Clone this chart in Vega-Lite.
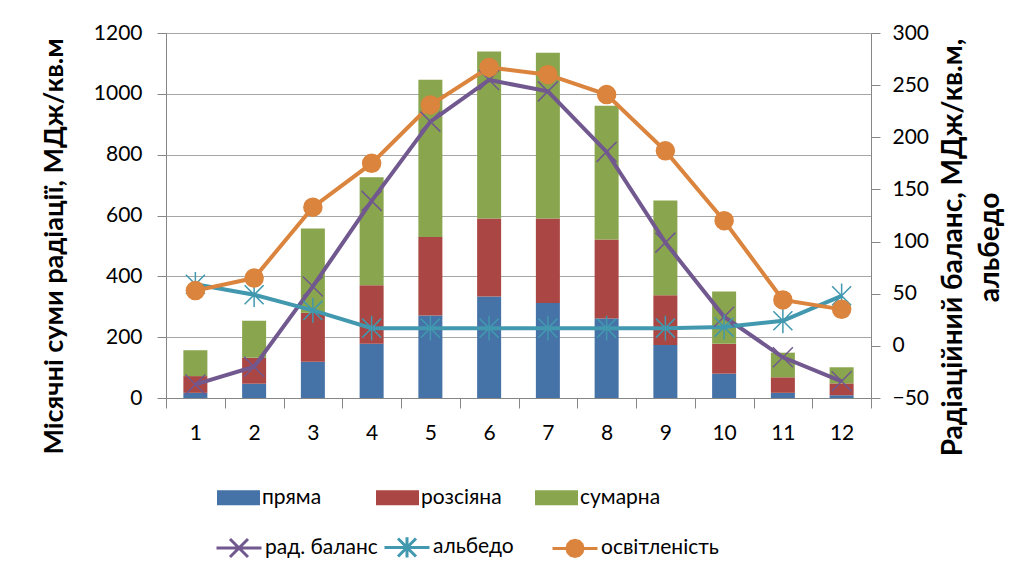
{
  "$schema": "https://vega.github.io/schema/vega-lite/v6.json",
  "width": 705,
  "height": 365,
  "autosize": {"type": "none"},
  "padding": {"left": 166, "top": 33, "right": 140, "bottom": 180},
  "background": "white",
  "config": {
    "font": "Lato",
    "view": {"stroke": null},
    "axis": {
      "labelFont": "Lato",
      "labelFontSize": 21,
      "labelColor": "#000000",
      "titleFont": "Lato",
      "titleFontSize": 27,
      "titleFontWeight": "bold",
      "titleColor": "#000000",
      "domainColor": "#868686",
      "tickColor": "#868686",
      "gridColor": "#a6a6a6",
      "tickSize": 9
    },
    "legend": {"labelFont": "Lato", "labelFontSize": 21, "labelColor": "#000000"}
  },
  "datasets": {
    "bars": [
      {"month": 1, "type": "пряма", "value": 17}, {"month": 1, "type": "розсіяна", "value": 55}, {"month": 1, "type": "сумарна", "value": 85},
      {"month": 2, "type": "пряма", "value": 47}, {"month": 2, "type": "розсіяна", "value": 85}, {"month": 2, "type": "сумарна", "value": 122},
      {"month": 3, "type": "пряма", "value": 119}, {"month": 3, "type": "розсіяна", "value": 161}, {"month": 3, "type": "сумарна", "value": 277},
      {"month": 4, "type": "пряма", "value": 178}, {"month": 4, "type": "розсіяна", "value": 193}, {"month": 4, "type": "сумарна", "value": 355},
      {"month": 5, "type": "пряма", "value": 271}, {"month": 5, "type": "розсіяна", "value": 258}, {"month": 5, "type": "сумарна", "value": 517},
      {"month": 6, "type": "пряма", "value": 334}, {"month": 6, "type": "розсіяна", "value": 256}, {"month": 6, "type": "сумарна", "value": 549},
      {"month": 7, "type": "пряма", "value": 312}, {"month": 7, "type": "розсіяна", "value": 278}, {"month": 7, "type": "сумарна", "value": 545},
      {"month": 8, "type": "пряма", "value": 261}, {"month": 8, "type": "розсіяна", "value": 260}, {"month": 8, "type": "сумарна", "value": 440},
      {"month": 9, "type": "пряма", "value": 174}, {"month": 9, "type": "розсіяна", "value": 164}, {"month": 9, "type": "сумарна", "value": 311},
      {"month": 10, "type": "пряма", "value": 80}, {"month": 10, "type": "розсіяна", "value": 98}, {"month": 10, "type": "сумарна", "value": 172},
      {"month": 11, "type": "пряма", "value": 17}, {"month": 11, "type": "розсіяна", "value": 51}, {"month": 11, "type": "сумарна", "value": 81},
      {"month": 12, "type": "пряма", "value": 9}, {"month": 12, "type": "розсіяна", "value": 39}, {"month": 12, "type": "сумарна", "value": 53}
    ],
    "lines": [
      {"month": 1, "series": "рад. баланс", "value": -37}, {"month": 2, "series": "рад. баланс", "value": -20},
      {"month": 3, "series": "рад. баланс", "value": 57}, {"month": 4, "series": "рад. баланс", "value": 139},
      {"month": 5, "series": "рад. баланс", "value": 215}, {"month": 6, "series": "рад. баланс", "value": 255},
      {"month": 7, "series": "рад. баланс", "value": 244}, {"month": 8, "series": "рад. баланс", "value": 186},
      {"month": 9, "series": "рад. баланс", "value": 99}, {"month": 10, "series": "рад. баланс", "value": 28},
      {"month": 11, "series": "рад. баланс", "value": -11}, {"month": 12, "series": "рад. баланс", "value": -34},
      {"month": 1, "series": "альбедо", "value": 59}, {"month": 2, "series": "альбедо", "value": 49},
      {"month": 3, "series": "альбедо", "value": 34}, {"month": 4, "series": "альбедо", "value": 17},
      {"month": 5, "series": "альбедо", "value": 17}, {"month": 6, "series": "альбедо", "value": 17},
      {"month": 7, "series": "альбедо", "value": 17}, {"month": 8, "series": "альбедо", "value": 17},
      {"month": 9, "series": "альбедо", "value": 17}, {"month": 10, "series": "альбедо", "value": 18},
      {"month": 11, "series": "альбедо", "value": 24}, {"month": 12, "series": "альбедо", "value": 48},
      {"month": 1, "series": "освітленість", "value": 53}, {"month": 2, "series": "освітленість", "value": 65},
      {"month": 3, "series": "освітленість", "value": 133}, {"month": 4, "series": "освітленість", "value": 175},
      {"month": 5, "series": "освітленість", "value": 231}, {"month": 6, "series": "освітленість", "value": 267},
      {"month": 7, "series": "освітленість", "value": 260}, {"month": 8, "series": "освітленість", "value": 241},
      {"month": 9, "series": "освітленість", "value": 187}, {"month": 10, "series": "освітленість", "value": 120},
      {"month": 11, "series": "освітленість", "value": 44}, {"month": 12, "series": "освітленість", "value": 35}
    ]
  },
  "encoding": {
    "x": {
      "field": "month",
      "type": "ordinal",
      "title": null,
      "scale": {"paddingInner": 0, "paddingOuter": 0},
      "axis": {"labelAngle": 0, "tickBand": "extent", "tickSize": 10, "labelPadding": 14, "domainColor": "#868686"}
    }
  },
  "layer": [
    {
      "data": {"name": "bars"},
      "mark": {"type": "bar", "size": 24},
      "encoding": {
        "y": {
          "field": "value",
          "type": "quantitative",
          "stack": "zero",
          "title": "Місячні суми радіації, МДж/кв.м",
          "scale": {"domain": [0, 1200], "nice": false},
          "axis": {"values": [0, 200, 400, 600, 800, 1000, 1200], "format": "d", "grid": true, "labelPadding": 15, "titlePadding": 25, "titleY": 213}
        },
        "color": {
          "field": "type",
          "type": "nominal",
          "scale": {"domain": ["пряма", "розсіяна", "сумарна"], "range": ["#4572A7", "#AA4643", "#89A54E"]},
          "legend": {
            "title": null,
            "orient": "none",
            "legendX": 51,
            "legendY": 443,
            "direction": "horizontal",
            "columns": 3,
            "gridAlign": "all",
            "columnPadding": 33,
            "symbolType": "M-1,-0.35H1V0.35H-1Z",
            "symbolSize": 1849,
            "symbolStrokeWidth": 0,
            "labelOffset": 2
          }
        },
        "order": {"field": "type", "sort": "ascending"}
      }
    },
    {
      "data": {"name": "lines"},
      "encoding": {
        "y": {
          "field": "value",
          "type": "quantitative",
          "title": ["Радіаційний баланс, МДж/кв.м,", "альбедо"],
          "scale": {"domain": [-50, 300], "nice": false},
          "axis": {
            "orient": "right",
            "values": [-50, 0, 50, 100, 150, 200, 250, 300],
            "grid": false,
            "labelPadding": 12,
            "titleAngle": 270,
            "titlePadding": 2,
            "titleFontSize": 28,
            "titleLineHeight": 37,
            "titleY": 214
          }
        }
      },
      "layer": [
        {
          "mark": {"type": "line", "strokeWidth": 4},
          "encoding": {
            "color": {
              "field": "series",
              "type": "nominal",
              "sort": null,
              "scale": {"domain": ["рад. баланс", "альбедо", "освітленість"], "range": ["#71588F", "#4198AF", "#DB843D"]},
              "legend": {
                "title": null,
                "orient": "none",
                "legendX": 49,
                "legendY": 490,
                "direction": "horizontal",
                "columns": 3,
                "gridAlign": "all",
                "columnPadding": -8,
                "symbolSize": 2025,
                "symbolStrokeWidth": 3,
                "labelOffset": 2,
                "encode": {
                  "symbols": {
                    "update": {
                      "shape": {"signal": "datum.value === 'рад. баланс' ? 'M-1,0H1M-0.4,-0.4L0.4,0.4M-0.4,0.4L0.4,-0.4' : datum.value === 'альбедо' ? 'M-1,0H1M-0.4,-0.4L0.4,0.4M-0.4,0.4L0.4,-0.4M0,-0.45V0.45' : 'M-1,0H1M0.36,0L0.312,0.18L0.18,0.312L0,0.36L-0.18,0.312L-0.312,0.18L-0.36,0L-0.312,-0.18L-0.18,-0.312L0,-0.36L0.18,-0.312L0.312,-0.18Z'"},
                      "fill": {"signal": "datum.value === 'освітленість' ? '#DB843D' : 'transparent'"}
                    }
                  }
                }
              }
            }
          }
        },
        {
          "mark": {"type": "point", "strokeWidth": 1.5, "opacity": 1},
          "encoding": {
            "shape": {
              "field": "series",
              "type": "nominal",
              "scale": {"domain": ["рад. баланс", "альбедо", "освітленість"], "range": ["M-1,-1L1,1M-1,1L1,-1", "M-1,-1L1,1M-1,1L1,-1M0,-1.3V1.3", "circle"]},
              "legend": null
            },
            "size": {
              "field": "series",
              "type": "nominal",
              "scale": {"domain": ["рад. баланс", "альбедо", "освітленість"], "range": [400, 324, 330]},
              "legend": null
            },
            "stroke": {
              "field": "series",
              "type": "nominal",
              "scale": {"domain": ["рад. баланс", "альбедо", "освітленість"], "range": ["#71588F", "#4198AF", "#DB843D"]},
              "legend": null
            },
            "fill": {
              "field": "series",
              "type": "nominal",
              "scale": {"domain": ["рад. баланс", "альбедо", "освітленість"], "range": ["transparent", "transparent", "#DB843D"]},
              "legend": null
            }
          }
        }
      ]
    }
  ],
  "resolve": {"scale": {"y": "independent", "color": "independent"}}
}
